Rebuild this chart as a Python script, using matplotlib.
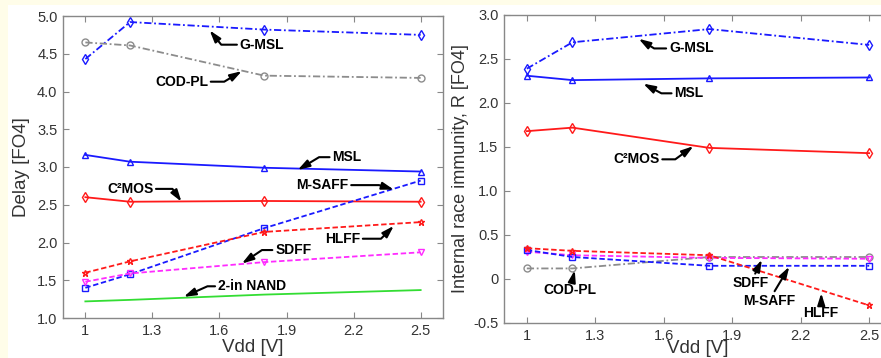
import matplotlib
matplotlib.use("Agg")
import matplotlib.pyplot as plt
from matplotlib.patches import Rectangle

plt.rcParams['font.family'] = ['Liberation Sans', 'DejaVu Sans']

vdd = [1.0, 1.2, 1.8, 2.5]

# Delay [FO4]
delay_gmsl = [4.43, 4.92, 4.82, 4.75]
delay_codpl = [4.65, 4.61, 4.21, 4.18]
delay_msl = [3.16, 3.07, 2.99, 2.94]
delay_c2mos = [2.60, 2.54, 2.55, 2.54]
delay_msaff = [1.40, 1.58, 2.19, 2.82]
delay_hlff = [1.60, 1.75, 2.14, 2.27]
delay_sdff = [1.48, 1.59, 1.74, 1.87]
delay_nand = [1.22, 1.24, 1.31, 1.37]

# Internal race immunity R [FO4]
race_gmsl = [2.39, 2.69, 2.84, 2.66]
race_msl = [2.31, 2.26, 2.28, 2.29]
race_c2mos = [1.68, 1.72, 1.49, 1.43]
race_hlff = [0.35, 0.32, 0.27, -0.30]
race_msaff = [0.33, 0.25, 0.15, 0.15]
race_sdff = [0.31, 0.27, 0.24, 0.23]
race_codpl = [0.12, 0.12, 0.25, 0.25]

x_ticks = [1.0, 1.3, 1.6, 1.9, 2.2, 2.5]
x_ticklabels = ['1', '1.3', '1.6', '1.9', '2.2', '2.5']
left_yticks = [1.0, 1.5, 2.0, 2.5, 3.0, 3.5, 4.0, 4.5, 5.0]
left_yticklabels = ['1.0', '1.5', '2.0', '2.5', '3.0', '3.5', '4.0', '4.5', '5.0']
right_yticks = [-0.5, 0, 0.5, 1.0, 1.5, 2.0, 2.5, 3.0]
right_yticklabels = ['-0.5', '0', '0.5', '1.0', '1.5', '2.0', '2.5', '3.0']

BLUE = '#1a1aff'
RED = '#ff1a1a'
GRAY = '#8c8c8c'
MAG = '#ff2bff'
GREEN = '#33dd33'

fig = plt.figure(figsize=(8.81, 3.58), dpi=100)
fig.patch.set_facecolor('white')
cream = '#fffde9'
fig.patches.append(Rectangle((0, 0), 8 / 881, 1, transform=fig.transFigure,
                             facecolor=cream, edgecolor='none', zorder=-10))
fig.patches.append(Rectangle((0, 1 - 5 / 358), 1, 5 / 358, transform=fig.transFigure,
                             facecolor=cream, edgecolor='none', zorder=-10))

ax1 = fig.add_axes([63 / 881, 40 / 358, 380 / 881, 302 / 358])
ax2 = fig.add_axes([504 / 881, 35 / 358, 388 / 881, 308 / 358])

ms = 5
lw = 1.3
dash = (0, (3, 1.5))
dashdot = (0, (4, 1.5, 1, 1.5))


def pl(ax, y, color, ls, marker):
    ax.plot(vdd, y, color=color, linestyle=ls, lw=lw, marker=marker,
            markersize=ms, markerfacecolor='none', markeredgecolor=color,
            markeredgewidth=1.0)


pl(ax1, delay_gmsl, BLUE, dashdot, 'd')
pl(ax1, delay_codpl, GRAY, dashdot, 'o')
pl(ax1, delay_msl, BLUE, '-', '^')
pl(ax1, delay_c2mos, RED, '-', 'd')
pl(ax1, delay_msaff, BLUE, dash, 's')
pl(ax1, delay_hlff, RED, dash, '*')
pl(ax1, delay_sdff, MAG, dash, 'v')
pl(ax1, delay_nand, GREEN, '-', None)

pl(ax2, race_gmsl, BLUE, dashdot, 'd')
pl(ax2, race_msl, BLUE, '-', '^')
pl(ax2, race_c2mos, RED, '-', 'd')
pl(ax2, race_codpl, GRAY, dashdot, 'o')
pl(ax2, race_sdff, MAG, dash, 'v')
pl(ax2, race_msaff, BLUE, dash, 's')
pl(ax2, race_hlff, RED, dash, '*')

for ax in (ax1, ax2):
    ax.set_xlim(0.9, 2.6)
    ax.set_xticks(x_ticks)
    ax.set_xticklabels(x_ticklabels)
    ax.tick_params(direction='in', top=True, right=True, length=4, width=0.8,
                   color='#888888', labelcolor='#333333', labelsize=10.5, pad=4)
    for s in ax.spines.values():
        s.set_color('#888888')
        s.set_linewidth(1.0)

ax1.set_xlabel('Vdd [V]', fontsize=13.5, color='#333333', labelpad=1)
ax2.set_xlabel('Vdd [V]', fontsize=13.5, color='#333333', labelpad=-2)

ax1.set_ylim(1.0, 5.0)
ax1.set_yticks(left_yticks)
ax1.set_yticklabels(left_yticklabels)
ax1.set_ylabel('Delay [FO4]', fontsize=13.5, color='#333333', labelpad=5)

ax2.set_ylim(-0.5, 3.0)
ax2.set_yticks(right_yticks)
ax2.set_yticklabels(right_yticklabels)
ax2.set_ylabel('Internal race immunity, R [FO4]', fontsize=13, color='#333333', labelpad=3)

aprops = dict(arrowstyle='-|>,head_length=0.7,head_width=0.22', color='black',
              lw=1.5, shrinkA=0, shrinkB=0)


def note(ax, text, xytext, xy, angleA=None, angleB=None):
    p = dict(aprops)
    if angleA is not None:
        p['connectionstyle'] = f'angle,angleA={angleA},angleB={angleB},rad=0'
    ax.annotate(text, xy=xy, xytext=xytext, fontsize=10, fontweight='bold',
                ha='center', va='center', arrowprops=p)


# left panel notes
note(ax1, 'G-MSL', (1.79, 4.62), (1.556, 4.81), 0, -51)
note(ax1, 'COD-PL', (1.43, 4.13), (1.70, 4.27), 0, 31)
note(ax1, 'MSL', (2.17, 3.13), (1.95, 2.96), 0, 31)
note(ax1, 'C²MOS', (1.20, 2.71), (1.43, 2.54), 0, 125)
note(ax1, 'M-SAFF', (2.06, 2.76), (2.38, 2.70), 0, -17)
note(ax1, 'HLFF', (2.15, 2.05), (2.38, 2.22), 0, 45)
note(ax1, 'SDFF', (1.93, 1.90), (1.70, 1.72), 0, 34)
note(ax1, '2-in NAND', (1.745, 1.42), (1.44, 1.28), 0, 24)

# right panel notes
note(ax2, 'G-MSL', (1.72, 2.62), (1.49, 2.73), 0, -32)
note(ax2, 'MSL', (1.71, 2.11), (1.51, 2.22), 0, -28)
note(ax2, 'C²MOS', (1.48, 1.36), (1.73, 1.51), 0, 36)
note(ax2, 'COD-PL', (1.19, -0.125), (1.21, 0.10))
note(ax2, 'SDFF', (1.98, -0.05), (2.03, 0.22))
note(ax2, 'M-SAFF', (2.06, -0.25), (2.15, 0.14))
note(ax2, 'HLFF', (2.29, -0.39), (2.29, -0.16))

fig.savefig('out.png', dpi=100, facecolor=fig.get_facecolor())
